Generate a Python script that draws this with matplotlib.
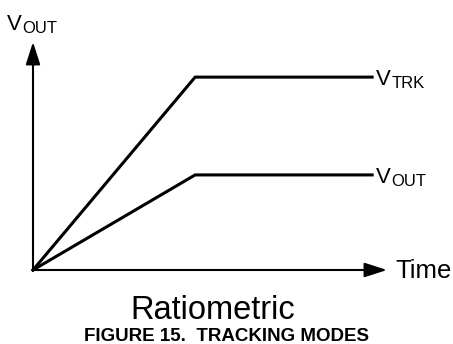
import matplotlib
matplotlib.use("Agg")
import matplotlib.pyplot as plt

# Ratiometric tracking: both outputs ramp over the same time, then settle
time = [0.0, 0.458, 0.958]
v_trk = [0.0, 0.846, 0.846]
v_out = [0.0, 0.417, 0.417]

plt.rcParams["font.family"] = ["Liberation Sans", "DejaVu Sans"]

W, H = 453, 344
fig = plt.figure(figsize=(W / 100, H / 100), dpi=100)

# axes box spans from the origin to the arrow tips
x0, y0, x1, y1 = 33, 270, 387, 42
ax = fig.add_axes([x0 / W, 1 - y0 / H, (x1 - x0) / W, (y0 - y1) / H])
ax.set_xlim(0, 1)
ax.set_ylim(0, 1)
ax.axis("off")

arrow = dict(arrowstyle="-|>,head_length=13.7,head_width=4.4", mutation_scale=1,
             color="black", lw=1.5, shrinkA=0, shrinkB=0)
ax.annotate("", xy=(1, 0), xytext=(0, 0), arrowprops=arrow, annotation_clip=False)
ax.annotate("", xy=(0, 1), xytext=(0, 0), arrowprops=arrow, annotation_clip=False)

ax.plot(time, v_trk, color="black", lw=2.2, solid_joinstyle="miter", clip_on=False)
ax.plot(time, v_out, color="black", lw=2.2, solid_joinstyle="miter", clip_on=False)


def vlabel(x, y, sub, dx, dy):
    ax.annotate("V", xy=(x, y), xytext=(dx, dy), textcoords="offset pixels",
                fontsize=16, va="baseline", ha="left", annotation_clip=False)
    ax.annotate(sub, xy=(x, y), xytext=(dx + 15, dy - 3), textcoords="offset pixels",
                fontsize=12, va="baseline", ha="left", annotation_clip=False)


vlabel(time[-1], v_trk[-1], "TRK", 4, -8)
vlabel(time[-1], v_out[-1], "OUT", 4, -8)
vlabel(0, 1, "OUT", -26, 12)

ax.annotate("Time", xy=(1, 0), xytext=(8, -8), textcoords="offset pixels",
            fontsize=18.5, va="baseline", ha="left", annotation_clip=False)

fig.text(213 / W, 1 - 319 / H, "Ratiometric", fontsize=23.5, ha="center", va="baseline")
fig.text(227 / W, 1 - 341 / H, "FIGURE 15.  TRACKING MODES", fontsize=13.5,
         fontweight="bold", ha="center", va="baseline")

fig.savefig("out.png", dpi=100)
